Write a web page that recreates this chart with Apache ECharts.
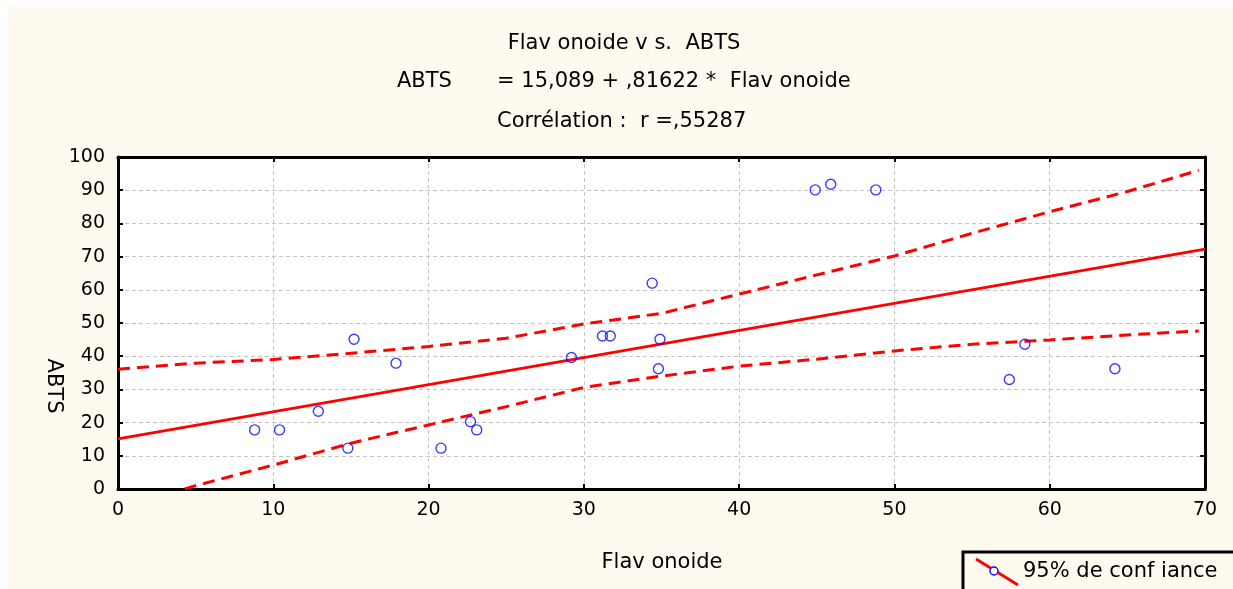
<!DOCTYPE html>
<html>
<head>
<meta charset="utf-8">
<script src="https://cdn.jsdelivr.net/npm/echarts@6/dist/echarts.min.js"></script>
<style>
  html, body { margin: 0; padding: 0; background: #ffffff; }
  #chart { width: 1233px; height: 589px; }
</style>
</head>
<body>
<div id="chart"></div>
<script>
// Flavonoide (x) and ABTS (y) measurements
const flavonoide = [8.8, 10.4, 12.9, 15.2, 14.8, 17.9, 20.8, 22.7, 23.1,
                    29.2, 31.2, 31.7, 34.4, 34.9, 34.8, 44.9, 45.9, 48.8,
                    57.4, 58.4, 64.2];
const abts       = [17.8, 17.8, 23.4, 45.1, 12.3, 37.9, 12.3, 20.3, 17.8,
                    39.6, 46.1, 46.1, 62.0, 45.1, 36.2, 90.1, 91.8, 90.1,
                    33.0, 43.6, 36.2];

// Fitted regression: ABTS = 15,089 + ,81622 * Flavonoide
const regLine = [[0, 15.089], [70, 72.224]];

// 95% confidence band limits
const upperX = [0, 5, 10, 15, 20, 25, 30, 35, 40, 45, 50, 55, 60, 65, 69.6];
const upperY = [36.1, 37.9, 39.0, 40.9, 42.9, 45.4, 49.7, 52.9, 58.7, 64.5, 70.2, 77.0, 83.5, 89.6, 96.0];
const lowerX = [4.3, 5, 10, 15, 20, 25, 30, 35, 40, 45, 50, 55, 60, 65, 69.6];
const lowerY = [0, 1.0, 7.2, 13.8, 19.3, 24.8, 30.6, 34.0, 37.0, 39.1, 41.6, 43.6, 44.9, 46.4, 47.6];

const xTicks = [0, 10, 20, 30, 40, 50, 60, 70];
const yTicks = [0, 10, 20, 30, 40, 50, 60, 70, 80, 90, 100];

const FONT = '"DejaVu Sans", sans-serif';
const pairs = (xs, ys) => xs.map((x, i) => [x, ys[i]]);

const chart = echarts.init(document.getElementById('chart'), null, { renderer: 'canvas' });

const tickStyle = { show: true, inside: true, length: 5, lineStyle: { color: '#000', width: 2 } };
const gridLine = { show: true, lineStyle: { color: '#c4c4c4', type: [4, 3], width: 1 } };
const frameLine = { show: true, onZero: false, lineStyle: { color: '#000', width: 3 } };

chart.setOption({
  backgroundColor: '#ffffff',
  animation: false,
  grid: {
    left: 118, right: 28, top: 157, bottom: 100,
    show: true, backgroundColor: '#ffffff', borderWidth: 0
  },
  xAxis: [{
    type: 'value', min: xTicks[0], max: xTicks[xTicks.length - 1], interval: 10,
    position: 'bottom', axisLine: frameLine, axisTick: tickStyle,
    axisLabel: { color: '#000', fontFamily: FONT, fontSize: 19, margin: 12 },
    splitLine: gridLine
  }, {
    type: 'value', min: xTicks[0], max: xTicks[xTicks.length - 1], interval: 10,
    position: 'top', axisLine: frameLine, axisTick: tickStyle,
    axisLabel: { show: false }, splitLine: { show: false }
  }],
  yAxis: [{
    type: 'value', min: yTicks[0], max: yTicks[yTicks.length - 1], interval: 10,
    position: 'left', axisLine: frameLine, axisTick: tickStyle,
    axisLabel: { color: '#000', fontFamily: FONT, fontSize: 19, margin: 13 },
    splitLine: gridLine
  }, {
    type: 'value', min: yTicks[0], max: yTicks[yTicks.length - 1], interval: 10,
    position: 'right', axisLine: frameLine, axisTick: tickStyle,
    axisLabel: { show: false }, splitLine: { show: false }
  }],
  series: [
    {
      name: 'upper', type: 'line', data: pairs(upperX, upperY),
      showSymbol: false, symbol: 'none', z: 3,
      lineStyle: { color: '#ff0000', width: 3, type: [12, 7] }
    },
    {
      name: 'lower', type: 'line', data: pairs(lowerX, lowerY),
      showSymbol: false, symbol: 'none', z: 3,
      lineStyle: { color: '#ff0000', width: 3, type: [12, 7] }
    },
    {
      name: 'regression', type: 'line', data: regLine,
      showSymbol: false, symbol: 'none', z: 3,
      lineStyle: { color: '#ff0000', width: 2.8 }
    },
    {
      name: 'points', type: 'scatter', data: pairs(flavonoide, abts),
      symbol: 'circle', symbolSize: 10, z: 4,
      itemStyle: { color: 'rgba(0,0,0,0)', borderColor: '#0a0aff', borderWidth: 1.4 }
    }
  ],
  graphic: [
    // cream page background
    { type: 'rect', z: -10, silent: true,
      shape: { x: 8, y: 7, width: 1225, height: 582 },
      style: { fill: '#fffaf0' } },
    // titles
    { type: 'text', z: 10,
      style: { text: 'Flav onoide v s.  ABTS', font: '21px ' + FONT, fill: '#000', x: 624, y: 44, textAlign: 'center', textVerticalAlign: 'middle' } },
    { type: 'text', z: 10,
      style: { text: 'ABTS', font: '21px ' + FONT, fill: '#000', x: 397, y: 82, textAlign: 'left', textVerticalAlign: 'middle' } },
    { type: 'text', z: 10,
      style: { text: '= 15,089 + ,81622 *  Flav onoide', font: '21px ' + FONT, fill: '#000', x: 497, y: 82, textAlign: 'left', textVerticalAlign: 'middle' } },
    { type: 'text', z: 10,
      style: { text: 'Corrélation :  r =,55287', font: '21px ' + FONT, fill: '#000', x: 497, y: 122, textAlign: 'left', textVerticalAlign: 'middle' } },
    // axis names
    { type: 'text', z: 10,
      style: { text: 'Flav onoide', font: '21px ' + FONT, fill: '#000', x: 662, y: 563, textAlign: 'center', textVerticalAlign: 'middle' } },
    { type: 'text', z: 10, x: 53, y: 386, rotation: -Math.PI / 2,
      style: { text: 'ABTS', font: '21px ' + FONT, fill: '#000', x: 0, y: 0, textAlign: 'center', textVerticalAlign: 'middle' } },
    // legend box
    { type: 'rect', z: 10,
      shape: { x: 963, y: 552, width: 290, height: 60 },
      style: { fill: '#fffaf0', stroke: '#000', lineWidth: 3 } },
    { type: 'line', z: 11,
      shape: { x1: 976, y1: 559, x2: 1018, y2: 585 },
      style: { stroke: '#ff0000', lineWidth: 2.8 } },
    { type: 'circle', z: 12,
      shape: { cx: 994, cy: 571, r: 4 },
      style: { fill: '#fffaf0', stroke: '#0a0aff', lineWidth: 1.4 } },
    { type: 'text', z: 12,
      style: { text: '95% de conf iance', font: '21px ' + FONT, fill: '#000', x: 1023, y: 572, textAlign: 'left', textVerticalAlign: 'middle' } }
  ]
});
</script>
</body>
</html>
